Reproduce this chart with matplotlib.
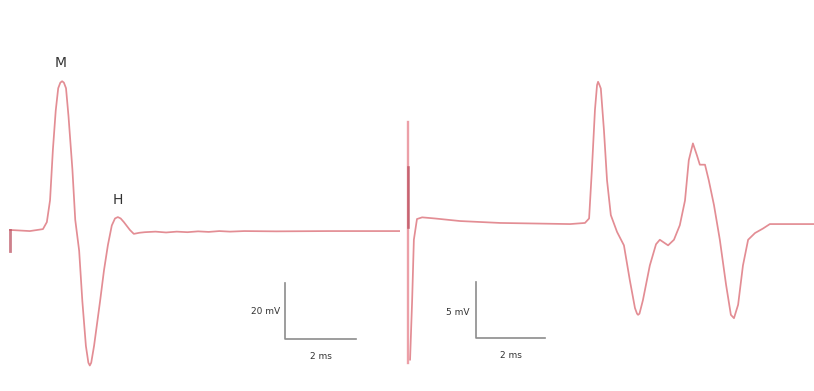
import matplotlib.pyplot as plt
import numpy as np

# Left recording: M and H waves (time in ms, potential in mV)
left_t = [0.0, 0.56, 0.93, 1.04, 1.13, 1.21, 1.29, 1.36, 1.42, 1.47, 1.52, 1.58, 1.65,
          1.76, 1.84, 1.95, 2.04, 2.14, 2.21, 2.25, 2.29, 2.37, 2.54, 2.65, 2.76, 2.87,
          2.96, 3.04, 3.12, 3.21, 3.38, 3.49, 3.65, 3.8, 4.1, 4.4, 4.7, 5.0, 5.3, 5.6,
          5.9, 6.2, 6.6, 7.5, 9.0, 11.0]
left_v = [0.4, 0.0, 0.7, 3.2, 11, 29, 43, 51, 53, 53.5, 53, 51, 41,
          22, 4, -7, -25, -41, -47, -48, -47, -41, -25, -14, -5, 2,
          4.5, 5, 4.5, 3.2, 0.4, -1, -0.6, -0.4, -0.2, -0.5, -0.2, -0.4, -0.1, -0.3,
          0.0, -0.2, 0.0, -0.1, 0.0, 0.0]
left_artifact = [0.4, -7.0]

# Right recording
right_t = [0.06, 0.12, 0.17, 0.26, 0.41, 0.78, 1.51, 2.67, 4.70, 5.13, 5.25, 5.33,
           5.42, 5.48, 5.51, 5.54, 5.59, 5.68, 5.77, 5.88, 6.06, 6.26, 6.43, 6.58,
           6.64, 6.67, 6.71, 6.81, 7.01, 7.19, 7.30, 7.54, 7.71, 7.88, 8.03, 8.14,
           8.26, 8.38, 8.46, 8.61, 8.72, 8.87, 9.04, 9.22, 9.36, 9.45, 9.57, 9.71,
           9.86, 10.06, 10.29, 10.49, 11.8]
right_v = [-12.1, -6.8, -1.4, 0.45, 0.6, 0.5, 0.27, 0.1, 0.0, 0.1, 0.5, 4.8,
           10.2, 12.4, 12.7, 12.5, 12.1, 8.4, 3.9, 0.8, -0.7, -1.9, -5.0, -7.5,
           -8.0, -8.1, -8.0, -6.8, -3.7, -1.8, -1.4, -1.9, -1.4, -0.1, 2.1, 5.7,
           7.2, 6.1, 5.3, 5.3, 3.9, 1.7, -1.4, -5.4, -8.1, -8.4, -7.2, -3.7,
           -1.4, -0.8, -0.4, 0.0, 0.0]
right_artifact = [9.1, -12.4]
right_artifact_dark = [5.1, -0.3]

trace_color = "#e38d94"
artifact_color = "#e6808b"
dark_artifact = "#b84a5a"
bar_color = "#8c8c8c"
text_color = "#333333"

fig = plt.figure(figsize=(8.14, 3.91), dpi=100)

# Left panel
ax1 = fig.add_axes([0, 0, 400 / 814, 1])
ax1.plot(left_t, left_v, color=trace_color, lw=1.25, solid_joinstyle="round")
ax1.plot([0, 0], left_artifact, color=dark_artifact, lw=2.0, alpha=0.7)
ax1.text(1.44, 57.5, "M", ha="center", va="bottom", fontsize=10, color=text_color)
ax1.text(3.04, 8.5, "H", ha="center", va="bottom", fontsize=10, color=text_color)
# scale bar: 20 mV / 2 ms
ax1.plot([7.75, 7.75, 9.75], [-18.6, -38.6, -38.6], color=bar_color, lw=1.2)
ax1.text(7.6, -28.6, "20 mV", ha="right", va="center", fontsize=6.5, color=text_color)
ax1.text(8.75, -43.0, "2 ms", ha="center", va="top", fontsize=6.5, color=text_color)
ax1.set_xlim(-0.28, 10.99)
ax1.set_ylim(-57.1, 82.5)
ax1.axis("off")

# Right panel
ax2 = fig.add_axes([404 / 814, 0, 410 / 814, 1])
ax2.plot([0, 0], right_artifact, color=artifact_color, lw=1.7, alpha=0.75)
ax2.plot([0, 0], right_artifact_dark, color=dark_artifact, lw=1.9, alpha=0.7)
ax2.plot(right_t, right_v, color=trace_color, lw=1.25, solid_joinstyle="round")
# scale bar: 5 mV / 2 ms
ax2.plot([1.97, 1.97, 3.97], [-5.2, -10.2, -10.2], color=bar_color, lw=1.2)
ax2.text(1.77, -7.9, "5 mV", ha="right", va="center", fontsize=6.5, color=text_color)
ax2.text(2.97, -11.3, "2 ms", ha="center", va="top", fontsize=6.5, color=text_color)
ax2.set_xlim(-0.116, 11.77)
ax2.set_ylim(-14.9, 20.0)
ax2.axis("off")

fig.savefig("out.png", dpi=100)
